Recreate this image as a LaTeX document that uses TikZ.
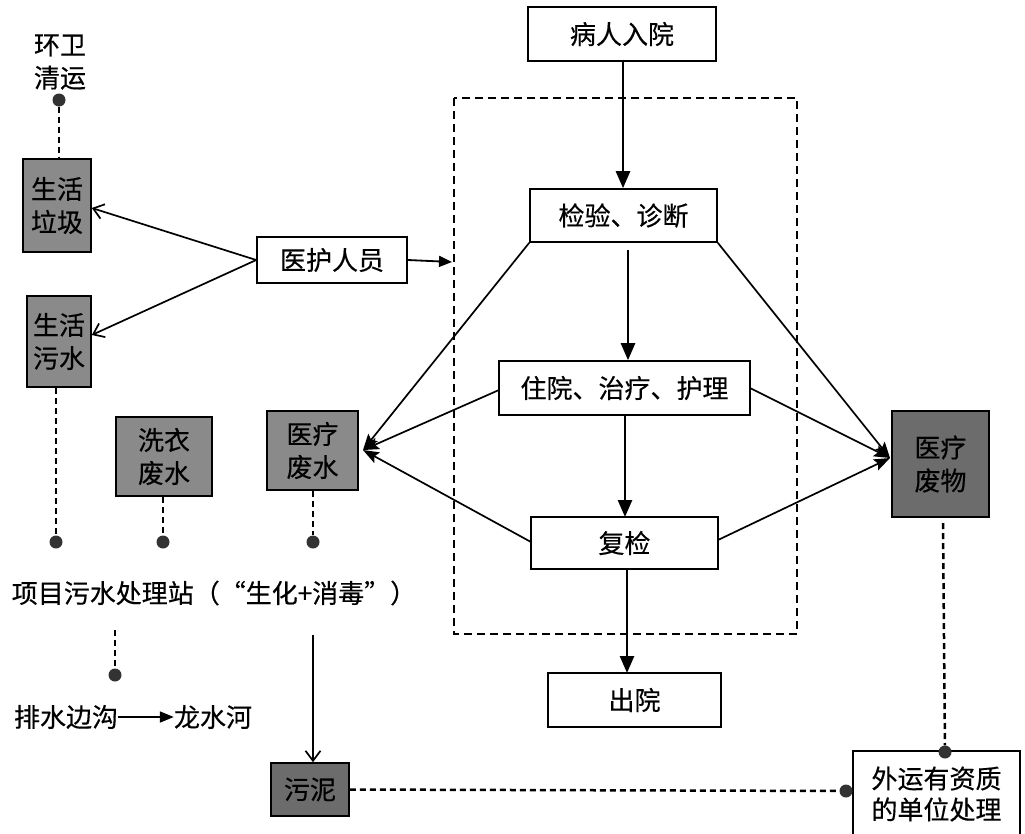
\documentclass[tikz,border=0pt]{standalone}
\usepackage{fontspec}
\setmainfont{Noto Sans CJK SC}[FakeBold=0.4]
\usetikzlibrary{arrows.meta,calc}
\definecolor{graylight}{RGB}{138,138,138}
\definecolor{graydark}{RGB}{108,108,108}
\tikzset{
  base/.style={inner sep=0pt, font=\fontsize{26}{33}\selectfont, align=center},
  wbox/.style={base, draw, line width=1.6pt, fill=white},
  gbox/.style={base, draw, line width=1.6pt, fill=graylight},
  dbox/.style={base, draw, line width=1.6pt, fill=graydark},
  lbl/.style={base},
  flow/.style={line width=2.6pt, -{Triangle[length=17pt,width=14pt]}},
  diag/.style={line width=1.7pt, -{Stealth[length=16pt,width=12pt,inset=3pt]}},
  openarr/.style={line width=1.7pt, -{Straight Barb[length=10pt,width=15pt]}},
  ddash/.style={line width=2.5pt, dash pattern=on 6pt off 4pt},
  dot/.style={circle, fill=black!80, minimum size=13pt, inner sep=0pt},
}
\begin{document}
\begin{tikzpicture}[x=1pt,y=-1pt]
\clip (0,0) rectangle (1025,833);
\fill[white] (0,0) rectangle (1025,833);

% dashed frame
\draw[line width=2pt, dash pattern=on 8pt off 5pt] (454,98) rectangle (797,634);

% main flow boxes
\node[wbox, minimum width=188, minimum height=54] (ry) at (622,34) {病人入院};
\node[wbox, minimum width=187, minimum height=53] (jy) at (623.5,215.5) {检验、诊断};
\node[wbox, minimum width=150, minimum height=46] (yh) at (332,260) {医护人员};
\node[wbox, minimum width=251, minimum height=54] (zy) at (624.5,388) {住院、治疗、护理};
\node[wbox, minimum width=187, minimum height=52] (fj) at (624.5,543) {复检};
\node[wbox, minimum width=173, minimum height=54] (cy) at (634.5,700) {出院};

% gray boxes
\node[gbox, minimum width=68, minimum height=93] (ljlj) at (57,205.5) {生活\\垃圾};
\node[gbox, minimum width=64, minimum height=91] (shws) at (59,341.5) {生活\\污水};
\node[gbox, minimum width=96, minimum height=79] (xyfs) at (164,456.5) {洗衣\\废水};
\node[gbox, minimum width=91, minimum height=79] (ylfs) at (312.5,450.5) {医疗\\废水};
\node[dbox, minimum width=97, minimum height=106] (ylfw) at (940.5,464) {医疗\\废物};
\node[dbox, minimum width=78, minimum height=53] (wn) at (310,789.5) {污泥};
\node[wbox, minimum width=167, minimum height=86, font=\fontsize{26}{31}\selectfont] (wy) at (936.5,794) {外运有资质\\的单位处理};

% texts
\node[lbl] (hw) at (60,62) {环卫\\清运};
\node[lbl] (zhan) at (214,593) {项目污水处理站（“生化+消毒”）};
\node[lbl] (psbg) at (66,717) {排水边沟};
\node[lbl] (lsh) at (213,717) {龙水河};

% dots
\node[dot] (dhw) at (59,100) {};
\node[dot] (d1) at (56,542) {};
\node[dot] (d2) at (163,542) {};
\node[dot] (d3) at (313,542) {};
\node[dot] (d4) at (115,675) {};
\node[dot] (d5) at (945,752) {};
\node[dot] (d6) at (846,791) {};

% free-end coordinates
\coordinate (yhend) at (452,262);
\coordinate (jygap) at (628,250);
\coordinate (zhanb) at (313,635);
\coordinate (d4top) at (115,630);
\coordinate (fwtop) at (943,523);
\coordinate (fsin) at (363,450);
\coordinate (fwin) at (890,458);
\coordinate (zyL) at (499,390);
\coordinate (fjL) at (531,542);
\coordinate (zyR) at (750,388);
\coordinate (fjR) at (718,540);

% main flow arrows
\draw[flow] (ry.south -| 623,0) -- (jy.north -| 623,0);
\draw[flow] (jygap) -- (jygap |- zy.north);
\draw[flow] (625,415) -- (625,517);
\draw[flow] (627,569) -- (627,673);
\draw[line width=1.8pt, -{Triangle[length=13pt,width=11pt]}] (yh.east) -- (yhend);

% medical staff -> domestic
\draw[openarr] (yh.west) -- (ljlj.east |- 0,208);
\draw[openarr] (yh.west) -- (shws.east |- 0,335);

% to medical wastewater
\draw[diag] (jy.south west) -- (fsin);
\draw[diag] (zyL) -- (fsin);
\draw[diag] (fjL) -- (fsin);

% to medical waste
\draw[diag] (jy.south east) -- (fwin);
\draw[diag] (zyR) -- (fwin);
\draw[diag] (fjR) -- (fwin);

% dashed connectors
\draw[ddash] (dhw) -- (ljlj.north -| dhw);
\draw[ddash] (shws.south -| d1) -- (d1);
\draw[ddash] (xyfs.south -| d2) -- (d2);
\draw[ddash] (ylfs.south -| d3) -- (d3);
\draw[ddash] (d4top) -- (d4);
\draw[ddash] (fwtop) -- (d5);
\draw[ddash] (wn.east) -- (d6);

% station -> sludge
\draw[openarr] (zhanb) -- (wn.north -| zhanb);

% drain -> river
\draw[line width=1.8pt, -{Triangle[length=14pt,width=11pt]}] (psbg.east) -- (lsh.west);
\end{tikzpicture}
\end{document}
